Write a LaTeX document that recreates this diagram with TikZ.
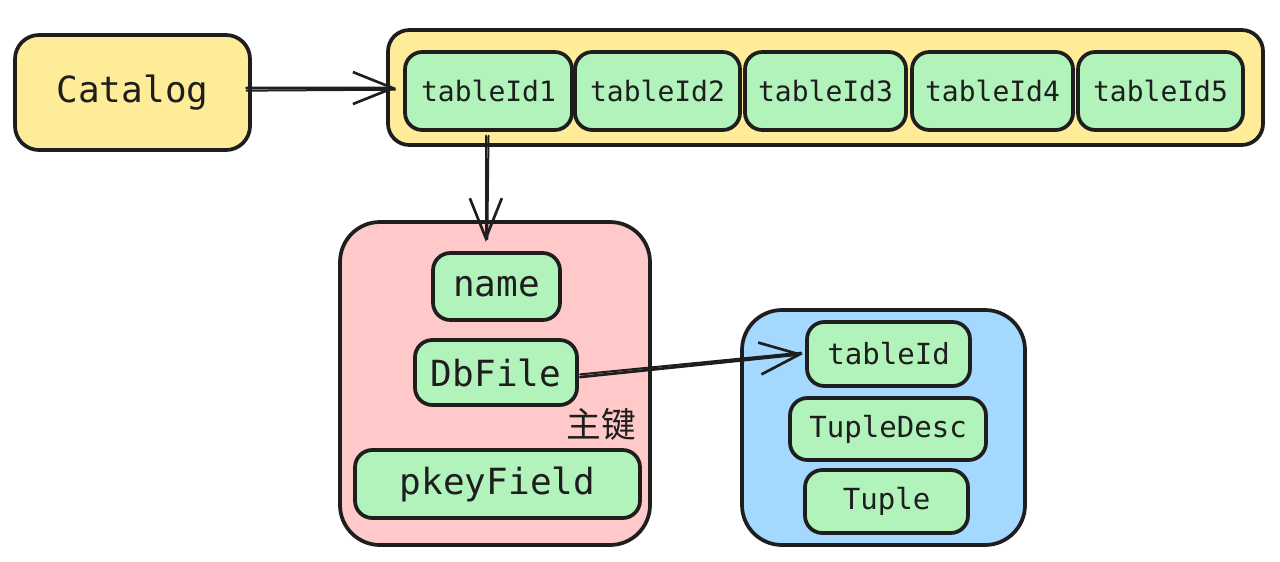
\documentclass[tikz,border=0pt]{standalone}
\usepackage{fontspec}
\setmonofont{DejaVu Sans Mono}
\newfontfamily\cjk{Noto Sans CJK SC}
\usetikzlibrary{arrows.meta}
\definecolor{ink}{HTML}{1E1E1E}
\definecolor{cyel}{HTML}{FFEC99}
\definecolor{cgrn}{HTML}{B2F2BB}
\definecolor{cpnk}{HTML}{FFC9C9}
\definecolor{cblu}{HTML}{A5D8FF}
\begin{document}
\begin{tikzpicture}[x=0.75pt,y=-0.75pt,
  box/.style={draw=ink, line width=2.8pt, rounded corners=#1, inner sep=0pt, align=center, text=ink},
  fbig/.style={font=\ttfamily\fontsize{27}{30}\selectfont},
  fmid/.style={font=\ttfamily\fontsize{21.8}{24}\selectfont},
  fsml/.style={font=\ttfamily\fontsize{21}{22}\selectfont},
  gbox/.style={box=13pt, fill=cgrn},
  arr/.style={draw=ink, line width=2pt, line cap=round,
    -{Straight Barb[length=30pt,width=24pt,line width=2pt]}},
  shaft/.style={draw=ink, line width=1.5pt, line cap=round}
]
\useasboundingbox (0,0) rectangle (1280,561);

% Catalog
\node[box=18pt, fill=cyel, fbig, minimum width=176.25pt, minimum height=86.25pt] (catalog) at (132.5,92.5) {Catalog};

% row container
\node[box=16pt, fill=cyel, minimum width=656.25pt, minimum height=86.25pt] (row) at (825.5,87.5) {};
\node[gbox, fsml, minimum width=125.25pt, minimum height=58.5pt] (t1) at (488.5,91) {tableId1};
\node[gbox, fsml, minimum width=123.75pt, minimum height=58.5pt] (t2) at (657.5,91) {tableId2};
\node[gbox, fsml, minimum width=120.75pt, minimum height=58.5pt] (t3) at (825.5,91) {tableId3};
\node[gbox, fsml, minimum width=120.75pt, minimum height=58.5pt] (t4) at (992.5,91) {tableId4};
\node[gbox, fsml, minimum width=123.75pt, minimum height=58.5pt] (t5) at (1160.5,91) {tableId5};

% pink table
\node[box=30pt, fill=cpnk, minimum width=232.5pt, minimum height=242.25pt] (tbl) at (495,383.5) {};
\node[gbox, fbig, minimum width=95.25pt, minimum height=50.25pt] (name) at (496.5,286.5) {name};
\node[gbox, fbig, minimum width=121.5pt, minimum height=48.75pt] (dbfile) at (496,372.5) {DbFile};
\node[gbox, fbig, minimum width=213.75pt, minimum height=51pt] (pkey) at (497.5,484) {pkeyField};
\node[inner sep=0pt, text=ink, font=\cjk\fontsize{26}{28}\selectfont] (pk) at (601,424) {主键};

% blue file
\node[box=30pt, fill=cblu, minimum width=212.25pt, minimum height=176.25pt] (file) at (883.5,427.5) {};
\node[gbox, fmid, minimum width=122.25pt, minimum height=48pt] (tid) at (888.5,354) {tableId};
\node[gbox, fmid, minimum width=147pt, minimum height=46.5pt] (tdesc) at (888,429) {TupleDesc};
\node[gbox, fmid, minimum width=122.25pt, minimum height=47.25pt] (tuple) at (886.5,501.5) {Tuple};

% arrows
\draw[arr] ([xshift=-4pt,yshift=3.4pt]catalog.east) -- ([xshift=-5pt,yshift=2.2pt]t1.west);
\draw[shaft] ([xshift=-4pt,yshift=1.4pt]catalog.east) -- ([xshift=-6pt,yshift=1pt]t1.west);
\draw[arr, shorten >=7pt] ([xshift=-2pt,yshift=-3pt]t1.south) -- ([xshift=-2pt]t1.south |- name.north);
\draw[shaft, shorten >=9pt] ([xshift=0pt,yshift=-3pt]t1.south) -- ([xshift=-1pt]t1.south |- name.north);
\draw[arr] ([xshift=1pt,yshift=-3.4pt]dbfile.east) -- ([xshift=-1.5pt]tid.west);
\draw[shaft] ([xshift=1pt,yshift=-1.4pt]dbfile.east) -- ([xshift=-3pt,yshift=1pt]tid.west);
\end{tikzpicture}
\end{document}
